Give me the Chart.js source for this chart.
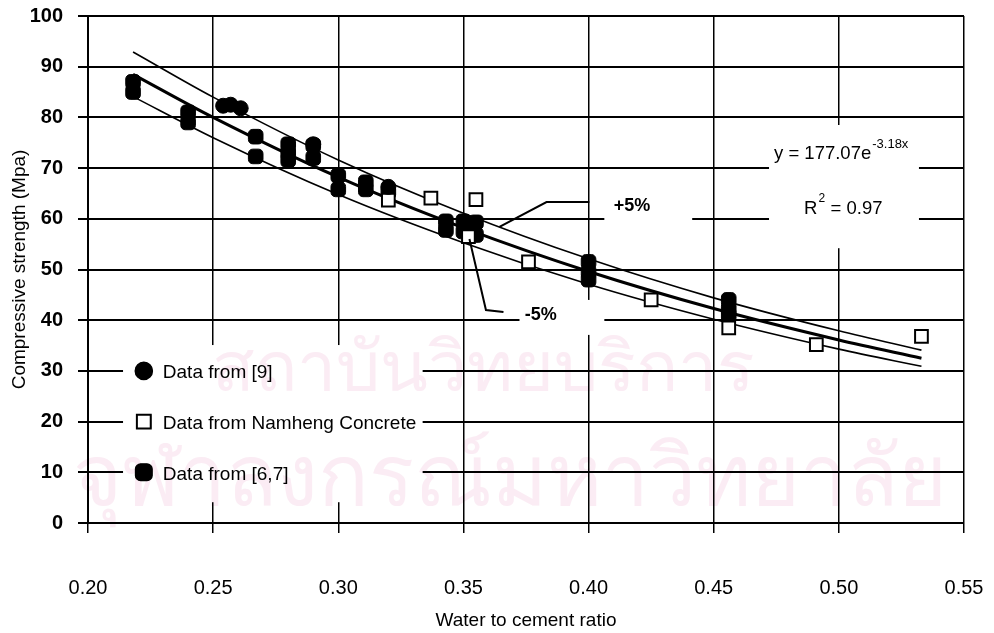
<!DOCTYPE html>
<html>
<head>
<meta charset="utf-8">
<script src="https://cdn.jsdelivr.net/npm/chart.js@4.4.1/dist/chart.umd.min.js"></script>
<style>
  html, body { margin: 0; padding: 0; background: #fff; }
  #wrap { width: 994px; height: 633px; position: relative; }
</style>
</head>
<body>
<div id="wrap"><canvas id="c"></canvas></div>
<script>
const xTicks = [0.20, 0.25, 0.30, 0.35, 0.40, 0.45, 0.50, 0.55];
const yTicks = [0, 10, 20, 30, 40, 50, 60, 70, 80, 90, 100];

// Data from [9] - filled circles
const ref9X = [0.254, 0.257, 0.261, 0.290, 0.320];
const ref9Y = [82.3, 82.5, 81.8, 74.7, 66.3];

// Data from Namheng Concrete - open squares
const namhengX = [0.320, 0.337, 0.352, 0.355, 0.376, 0.425, 0.456, 0.491, 0.533];
const namhengY = [63.7, 64.1, 56.5, 63.8, 51.5, 44.0, 38.5, 35.2, 36.8];

// Data from [6,7] - filled squares
const ref67X = [0.218, 0.218, 0.240, 0.240, 0.267, 0.267, 0.280, 0.280, 0.280, 0.290, 0.290,
  0.300, 0.300, 0.311, 0.311, 0.320, 0.343, 0.343, 0.350, 0.350, 0.355, 0.355,
  0.400, 0.400, 0.400, 0.456, 0.456, 0.456];
const ref67Y = [87.0, 85.0, 81.0, 79.0, 76.2, 72.3, 74.7, 73.0, 71.6, 74.5, 72.0,
  68.5, 65.8, 67.2, 65.8, 65.3, 59.5, 57.8, 59.5, 57.5, 59.3, 56.8,
  51.5, 49.5, 48.0, 44.0, 42.2, 41.0];

// trend line and +/-5% bands
const curveX = [0.218, 0.25, 0.30, 0.35, 0.40, 0.45, 0.50, 0.533];
const fitY = [88.5, 80.0, 68.2, 58.2, 49.6, 42.3, 36.1, 32.5];
const upperY = [92.9, 84.0, 71.6, 61.1, 52.1, 44.4, 37.9, 34.1];
const lowerY = [84.1, 76.0, 64.8, 55.3, 47.1, 40.2, 34.3, 30.9];

const legendItems = ['Data from [9]', 'Data from Namheng Concrete', 'Data from [6,7]'];

const FONT = '"Liberation Sans", Arial, sans-serif';
const pts = (xs, ys) => xs.map((x, i) => ({ x, y: ys[i] }));

const overlay = {
  id: 'overlay',
  beforeDraw(chart) {
    const { ctx } = chart;
    ctx.save();
    ctx.fillStyle = '#fff';
    ctx.fillRect(0, 0, chart.width, chart.height);
    ctx.restore();
  },
  beforeDatasetsDraw(chart) {
    const { ctx, scales: { x, y } } = chart;
    // white boxes behind the text blocks
    const boxes = [
      [0.214, 0.3337, 35.1, 4.1],
      [0.4063, 0.4414, 64.5, 56.6],
      [0.3724, 0.4063, 44.0, 37.1],
      [0.4721, 0.532, 78.5, 54.2]
    ];
    ctx.save();
    ctx.fillStyle = '#fff';
    boxes.forEach(b => {
      const l = x.getPixelForValue(b[0]), r = x.getPixelForValue(b[1]);
      const t = y.getPixelForValue(b[2]), bt = y.getPixelForValue(b[3]);
      ctx.fillRect(l, t, r - l, bt - t);
    });
    ctx.restore();
  },
  afterDatasetsDraw(chart) {
    const { ctx, scales: { x, y } } = chart;
    const px = v => x.getPixelForValue(v);
    const py = v => y.getPixelForValue(v);
    ctx.save();
    ctx.strokeStyle = '#000';
    ctx.fillStyle = '#000';
    ctx.lineWidth = 2;

    // leader lines
    ctx.beginPath();
    ctx.moveTo(px(0.3644), py(58.4));
    ctx.lineTo(px(0.3832), py(63.3));
    ctx.lineTo(px(0.4003), py(63.3));
    ctx.stroke();
    ctx.beginPath();
    ctx.moveTo(px(0.3524), py(56.0));
    ctx.lineTo(px(0.3590), py(42.0));
    ctx.lineTo(px(0.3660), py(41.6));
    ctx.stroke();

    ctx.textBaseline = 'middle';
    ctx.textAlign = 'left';
    ctx.font = 'bold 18px ' + FONT;
    ctx.fillText('+5%', px(0.4101), py(62.6));
    ctx.fillText('-5%', px(0.3745), py(41.0));

    // equation
    ctx.font = '18.5px ' + FONT;
    let ex = px(0.4741), ey = py(72.8);
    ctx.fillText('y = 177.07e', ex, ey);
    let w = ctx.measureText('y = 177.07e').width;
    ctx.font = '13px ' + FONT;
    ctx.fillText('-3.18x', ex + w + 1, ey - 9);
    ctx.font = '18.5px ' + FONT;
    let rx = px(0.4861), ry = py(62.0);
    ctx.fillText('R', rx, ry);
    w = ctx.measureText('R').width;
    ctx.font = '12px ' + FONT;
    ctx.fillText('2', rx + w + 1, ry - 10);
    ctx.font = '18.5px ' + FONT;
    ctx.fillText(' = 0.97', rx + w + 8, ry);

    // legend
    const lx = px(0.2223), tx = px(0.2299);
    const ly = [30, 20, 10];
    ctx.font = '19px ' + FONT;
    legendItems.forEach((t, i) => {
      const cy = py(ly[i]);
      const ds = chart.data.datasets[i];
      Chart.helpers.drawPoint(ctx, {
        pointStyle: ds.pointStyle, radius: ds.pointRadius + 0.8,
        borderWidth: ds.borderWidth
      }, lx, cy);
      ctx.fillStyle = ds.backgroundColor;
      ctx.strokeStyle = '#000';
      ctx.lineWidth = ds.borderWidth;
      ctx.fill();
      ctx.stroke();
      ctx.fillStyle = '#000';
      ctx.fillText(t, tx, cy + 2);
    });
    ctx.restore();
  },
  afterDraw(chart) {
    // faint scanned watermark, lying over the whole figure
    const { ctx } = chart;
    ctx.save();
    ctx.globalCompositeOperation = 'multiply';
    ctx.fillStyle = 'rgb(251,236,244)';
    ctx.textAlign = 'center';
    ctx.textBaseline = 'middle';
    ctx.font = '70px sans-serif';
    ctx.fillText('สถาบันวิทยบริการ', 483, 372);
    ctx.font = '84px sans-serif';
    ctx.fillText('จุฬาลงกรณ์มหาวิทยาลัย', 510, 482);
    ctx.restore();
  }
};

new Chart(document.getElementById('c'), {
  type: 'scatter',
  data: {
    datasets: [
      { label: legendItems[0], data: pts(ref9X, ref9Y), pointStyle: 'circle', pointRadius: 7.5,
        backgroundColor: '#000', borderColor: '#000', borderWidth: 1 },
      { label: legendItems[1], data: pts(namhengX, namhengY), pointStyle: 'rect', pointRadius: 9,
        backgroundColor: '#fff', borderColor: '#000', borderWidth: 2 },
      { label: legendItems[2], data: pts(ref67X, ref67Y), pointStyle: 'rectRounded', pointRadius: 8.5,
        backgroundColor: '#000', borderColor: '#000', borderWidth: 1 },
      { label: 'fit', data: pts(curveX, fitY), showLine: true, pointRadius: 0,
        borderColor: '#000', borderWidth: 3, cubicInterpolationMode: 'monotone' },
      { label: '+5%', data: pts(curveX, upperY), showLine: true, pointRadius: 0,
        borderColor: '#000', borderWidth: 1.6, cubicInterpolationMode: 'monotone' },
      { label: '-5%', data: pts(curveX, lowerY), showLine: true, pointRadius: 0,
        borderColor: '#000', borderWidth: 1.6, cubicInterpolationMode: 'monotone' }
    ]
  },
  options: {
    responsive: true,
    maintainAspectRatio: false,
    animation: false,
    layout: { padding: { top: 16, right: 30, left: 0, bottom: 0 } },
    plugins: { legend: { display: false }, tooltip: { enabled: false } },
    scales: {
      x: {
        type: 'linear', min: 0.20, max: 0.55,
        afterBuildTicks: s => { s.ticks = xTicks.map(v => ({ value: v })); },
        afterFit: s => { s.height = 110; s.paddingLeft = 0; s.paddingRight = 0; },
        grid: { color: '#000', lineWidth: 1.5, tickLength: 10 },
        border: { color: '#000', width: 2 },
        ticks: { color: '#000', padding: 43, maxRotation: 0, autoSkip: false,
          font: { family: FONT, size: 20 }, callback: v => v.toFixed(2) },
        title: { display: true, text: 'Water to cement ratio', color: '#000',
          font: { family: FONT, size: 19 }, padding: { top: 0, bottom: 1 } }
      },
      y: {
        type: 'linear', min: 0, max: 100,
        afterBuildTicks: s => { s.ticks = yTicks.map(v => ({ value: v })); },
        afterFit: s => { s.width = 88; s.paddingTop = 0; s.paddingBottom = 0; },
        grid: { color: '#000', lineWidth: 2, tickLength: 10 },
        border: { color: '#000', width: 2 },
        ticks: { color: '#000', padding: 15, font: { family: FONT, size: 20, weight: 'bold' } },
        title: { display: true, text: 'Compressive strength (Mpa)', color: '#000',
          font: { family: FONT, size: 19 }, padding: { top: 8, bottom: 0 } }
      }
    }
  },
  plugins: [overlay]
});
</script>
</body>
</html>
